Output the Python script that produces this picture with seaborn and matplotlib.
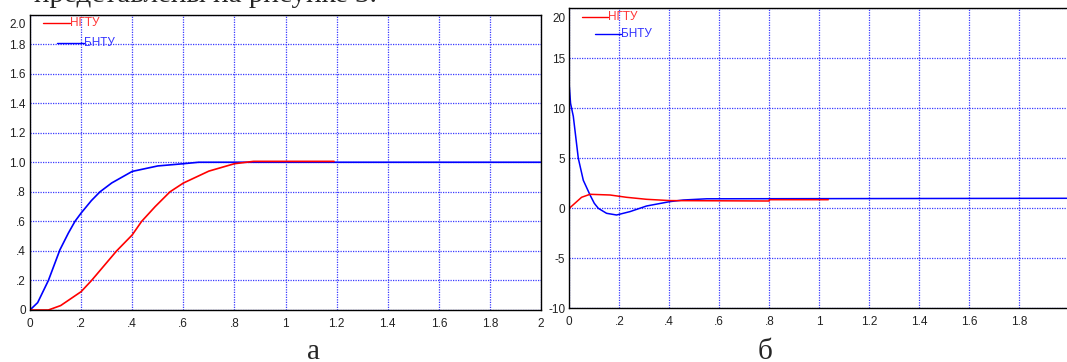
import numpy as np
import pandas as pd
import seaborn as sb
import matplotlib.pyplot as plt
from matplotlib.transforms import offset_copy

# panel a (left) - step responses
t_a_blue = [0, 0.03, 0.072, 0.117, 0.15, 0.176, 0.2, 0.24, 0.274, 0.32, 0.4, 0.5, 0.6, 0.66, 2.0]
v_a_blue = [0, 0.05, 0.2, 0.407, 0.52, 0.6, 0.656, 0.74, 0.8, 0.86, 0.938, 0.975, 0.99, 1.0, 1.0]
t_a_red = [0, 0.072, 0.12, 0.2, 0.241, 0.29, 0.339, 0.4, 0.437, 0.49, 0.548, 0.6, 0.7, 0.8, 0.875, 1.19]
v_a_red = [0, 0, 0.03, 0.124, 0.2, 0.3, 0.4, 0.508, 0.6, 0.7, 0.8, 0.859, 0.94, 0.99, 1.006, 1.006]

# panel b (right)
t_b_blue = [0, 0.005, 0.016, 0.036, 0.056, 0.083, 0.1, 0.116, 0.149, 0.189, 0.243, 0.309, 0.403, 0.456, 0.55, 1.99]
v_b_blue = [12.2, 10.5, 9.2, 5.0, 2.8, 1.33, 0.5, 0, -0.5, -0.67, -0.33, 0.23, 0.67, 0.83, 0.95, 1.0]
t_b_red = [0, 0.049, 0.083, 0.163, 0.229, 0.309, 0.403, 0.8, 0.8, 1.036]
v_b_red = [0, 1.1, 1.4, 1.33, 1.1, 0.9, 0.77, 0.73, 0.86, 0.86]

labels = ['НГТУ', 'БНТУ']
xt_a = [0, 0.2, 0.4, 0.6, 0.8, 1.0, 1.2, 1.4, 1.6, 1.8, 2.0]
xl_a = ['0', '.2', '.4', '.6', '.8', '1', '1.2', '1.4', '1.6', '1.8', '2']
yt_a = [0, 0.2, 0.4, 0.6, 0.8, 1.0, 1.2, 1.4, 1.6, 1.8, 2.0]
yl_a = ['0', '.2', '.4', '.6', '.8', '1.0', '1.2', '1.4', '1.6', '1.8', '2.0']
xt_b = xt_a[:-1]
xl_b = xl_a[:-1]
yt_b = [-10, -5, 0, 5, 10, 15, 20]
yl_b = ['-10', '-5', '0', '5', '10', '15', '20']

sb.set_style('white')
plt.rcParams['font.family'] = ['Liberation Sans', 'DejaVu Sans']

RED = '#ff0000'
BLUE = '#0000ff'
GRID = '#3a3aff'

fig = plt.figure(figsize=(10.67, 3.62), dpi=100)
ax1 = fig.add_axes([30/1067, 1-310/362, 511/1067, 295.5/362])
ax2 = fig.add_axes([569.3/1067, 1-308.3/362, 497.7/1067, 300/362])


def style(ax, xt, xl, yt, yl, xlim, ylim, top_shift):
    ax.set_xlim(*xlim)
    ax.set_ylim(*ylim)
    ax.set_xticks(xt)
    ax.set_xticklabels(xl)
    ax.set_yticks(yt)
    ax.set_yticklabels(yl)
    ax.grid(True, color=GRID, linestyle=(0, (1, 1)), linewidth=0.9)
    ax.tick_params(length=0, labelsize=8.5, labelcolor='#222222')
    ax.tick_params(axis='x', pad=5.5)
    ax.tick_params(axis='y', pad=3)
    for s in ax.spines.values():
        s.set_color('black')
        s.set_linewidth(1.0)
    ax.set_xlabel('')
    ax.set_ylabel('')
    # top label sits below the top frame
    lab = ax.get_yticklabels()[-1]
    lab.set_transform(offset_copy(lab.get_transform(), fig=fig, y=-top_shift, units='dots'))


def legend(ax, x0, x1, y0, y1, dx_b):
    ax.plot([x0, x1], [y0, y0], color=RED, lw=1.0, transform=ax.transAxes, clip_on=False)
    ax.text(x1, y0, labels[0], color='#ff3333', fontsize=8.5, va='center', ha='left', transform=ax.transAxes)
    ax.plot([x0 + dx_b, x1 + dx_b], [y1, y1], color=BLUE, lw=1.0, transform=ax.transAxes, clip_on=False)
    ax.text(x1 + dx_b, y1, labels[1], color='#3333ff', fontsize=8.5, va='center', ha='left', transform=ax.transAxes)


sb.lineplot(x=t_a_blue, y=v_a_blue, ax=ax1, color=BLUE, lw=1.2, estimator=None, sort=False)
sb.lineplot(x=t_a_red, y=v_a_red, ax=ax1, color=RED, lw=1.2, estimator=None, sort=False)
style(ax1, xt_a, xl_a, yt_a, yl_a, (0, 2.0), (0, 2.0), 9)
legend(ax1, 0.0254, 0.0783, 0.970, 0.9046, 0.0274)

sb.lineplot(x=t_b_blue, y=v_b_blue, ax=ax2, color=BLUE, lw=1.1, estimator=None, sort=False)
sb.lineplot(x=t_b_red, y=v_b_red, ax=ax2, color=RED, lw=1.1, estimator=None, sort=False)
style(ax2, xt_b, xl_b, yt_b, yl_b, (0, 1.991), (-10, 20), 9)
ax2.spines['right'].set_visible(False)
legend(ax2, 0.0255, 0.0777, 0.972, 0.913, 0.0261)

# captions and cut-off document line
fig.text(314/1067, 3/362, 'а', fontsize=21, family='Liberation Serif', ha='center', va='baseline')
fig.text(765/1067, 3/362, 'б', fontsize=21, family='Liberation Serif', ha='center', va='baseline')
fig.text(377/1067, 1-2/362, 'представлены на рисунке 3.', fontsize=21, family='Liberation Serif',
         ha='right', va='baseline')

plt.savefig('out.png', dpi=100)
